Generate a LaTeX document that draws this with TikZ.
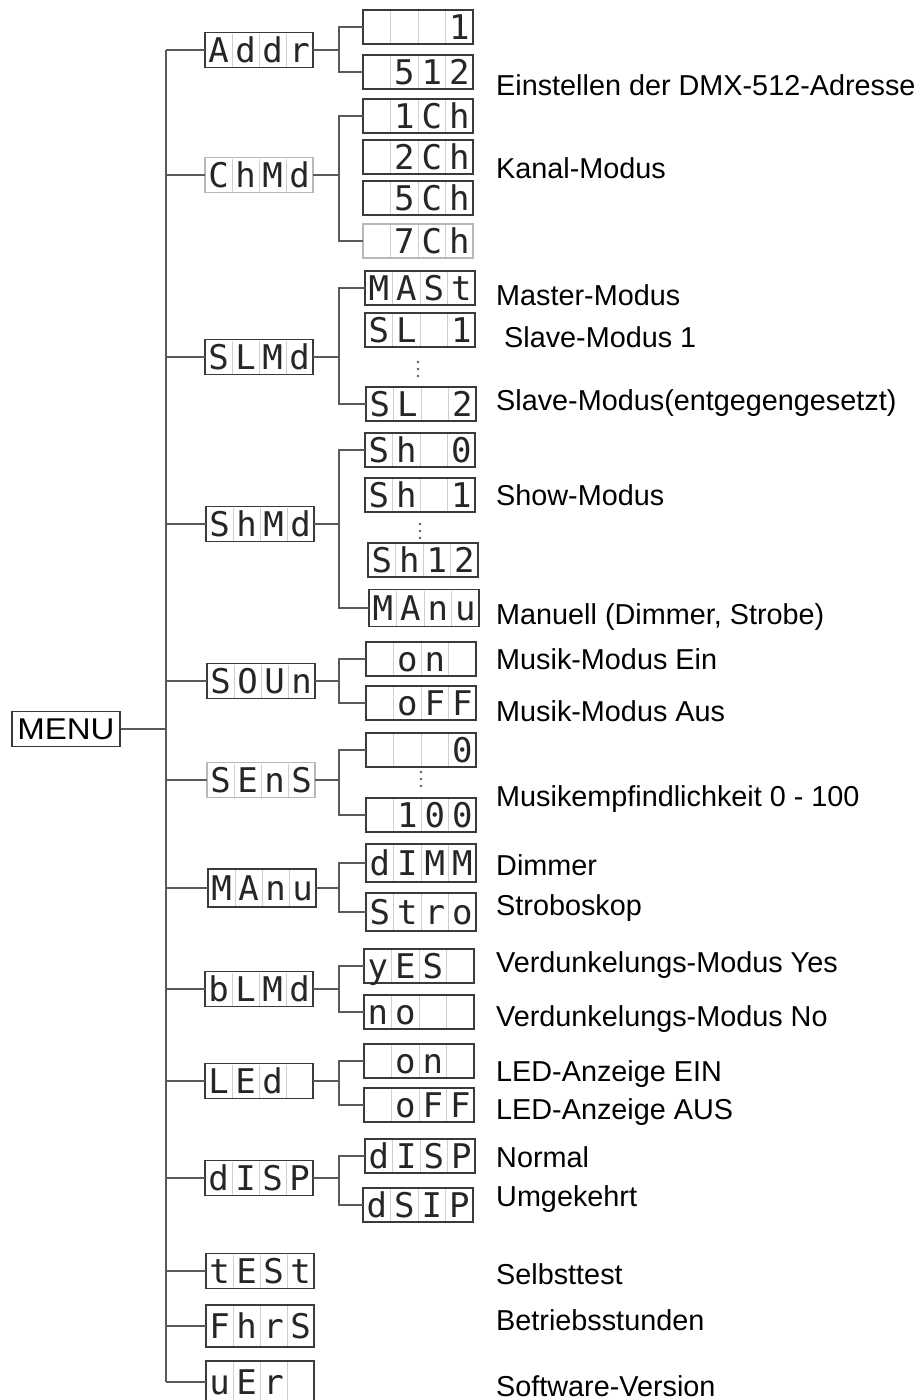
\documentclass[tikz,border=0pt]{standalone}
\usepackage{fontspec}
\setmainfont{Liberation Sans}
\newfontfamily\segfont{DejaVu Sans Mono}
\newfontfamily\menufont[FakeStretch=1.1]{Liberation Sans}
\usetikzlibrary{calc}
\definecolor{boxgray}{HTML}{3A3A3A}
\definecolor{cellgray}{HTML}{CFCFCF}
\definecolor{fadegray}{HTML}{B8B8B8}
\definecolor{wiregray}{HTML}{5A5A5A}
\definecolor{segblack}{HTML}{262626}

% display a 4 celle: nome, posizione, caratteri
\newcommand{\lcd}[4][]{%
  \node[lcdbox,#1] (#2) at (#3) {};
  \foreach \ltr [count=\i] in {#4} {
    \pgfmathsetmacro\cpos{0.25*\i-0.125}
    \node[seg] (#2-\i) at ($(#2.west)!\cpos!(#2.east)$) {\ltr};
    \ifnum\i>1
      \pgfmathsetmacro\dpos{0.25*\i-0.25}
      \draw[cell] ($(#2.north west)!\dpos!(#2.north east)$) -- ($(#2.south west)!\dpos!(#2.south east)$);
    \fi
  }
}

\begin{document}
\begin{tikzpicture}[x=1pt,y=-1pt,
  wire/.style={draw=wiregray,line width=1.4pt},
  lcdbox/.style={draw=boxgray,line width=1.6pt,fill=white,minimum width=108pt,minimum height=35pt,inner sep=0pt,outer sep=0pt},
  sub/.style={minimum width=110pt,minimum height=34pt},
  faded/.style={draw=fadegray},
  cell/.style={draw=cellgray,line width=0.9pt,shorten >=1pt,shorten <=1pt},
  seg/.style={font=\segfont\fontsize{34}{34}\selectfont,text=segblack,inner sep=0pt,text height=24pt,text depth=0pt},
  lbl/.style={anchor=base west,font=\fontsize{28.8}{34}\selectfont,inner sep=0pt}]
  \fill[white] (0,0) rectangle (923,1400);
  \useasboundingbox (0,0) rectangle (923,1400);

  % tronco principale
  \coordinate (ttop) at (166,50);
  \coordinate (tbot) at (166,1382);
  \coordinate (jx) at (339,50);
  \draw[wire] (ttop) -- (tbot);

  \node[draw=boxgray,line width=1.6pt,minimum width=108pt,minimum height=35pt,inner sep=0pt,
        font=\menufont\fontsize{30}{30}\selectfont] (menu) at (66,729) {MENU};
  \draw[wire] (menu.east) -- (menu.east -| ttop);

  % menu
  \lcd{addr}{259,50}{A,d,d,r}
  \lcd[faded]{chmd}{259,175}{C,h,M,d}
  \lcd{slmd}{259,357}{S,L,M,d}
  \lcd{shmd}{260,524}{S,h,M,d}
  \lcd{soun}{261,681}{S,O,U,n}
  \lcd[faded]{sens}{261,780}{S,E,n,S}
  \lcd[minimum height=38pt]{manu}{262,888}{M,A,n,u}
  \lcd{blmd}{259,989}{b,L,M,d}
  \lcd{led}{259,1081}{L,E,d,{}}
  \lcd{disp}{259,1178}{d,I,S,P}
  \lcd{test}{260,1271}{t,E,S,t}
  \lcd[minimum height=42pt]{fhrs}{260,1326}{F,h,r,S}
  \lcd[minimum height=42pt]{ver}{260,1382}{u,E,r,{}}

  % sottomenu
  \lcd[sub]{a1}{418,27}{{},{},{},1}
  \lcd[sub]{a2}{418,72}{{},5,1,2}
  \lcd[sub]{c1}{418,116}{{},1,C,h}
  \lcd[sub]{c2}{418,157}{{},2,C,h}
  \lcd[sub]{c3}{418,198}{{},5,C,h}
  \lcd[sub,faded]{c4}{418,241}{{},7,C,h}
  \lcd[sub]{s1}{420,288}{M,A,S,t}
  \lcd[sub]{s2}{420,330}{S,L,{},1}
  \lcd[sub]{s3}{421,404}{S,L,{},2}
  \lcd[sub]{h1}{420,450}{S,h,{},0}
  \lcd[sub]{h2}{420,495}{S,h,{},1}
  \lcd[sub]{h3}{423,560}{S,h,1,2}
  \lcd[sub,minimum height=37pt]{h4}{424,608}{M,A,n,u}
  \lcd[sub]{o1}{421,659}{{},o,n,{}}
  \lcd[sub]{o2}{421,703}{{},o,F,F}
  \lcd[sub]{e1}{421,750}{{},{},{},0}
  \lcd[sub]{e2}{421,815}{{},1,0,0}
  \lcd[sub,minimum height=38pt]{m1}{421,863}{d,I,M,M}
  \lcd[sub,minimum height=38pt]{m2}{421,912}{S,t,r,o}
  \lcd[sub]{b1}{419,966}{y,E,S,{}}
  \lcd[sub]{b2}{419,1012}{n,o,{},{}}
  \lcd[sub]{l1}{419,1061}{{},o,n,{}}
  \lcd[sub]{l2}{419,1105}{{},o,F,F}
  \lcd[sub]{d1}{420,1156}{d,I,S,P}
  \lcd[sub]{d2}{418,1205}{d,S,I,P}

  % puntini tra le opzioni
  \foreach \X/\Y in {418/362,420/524,421/772}
    \foreach \k in {0,1,2}
      \fill[wiregray] (\X,\Y+7*\k) circle (1.4);

  % collegamenti
  \foreach \m in {addr,chmd,slmd,shmd,soun,sens,manu,blmd,led,disp,test,fhrs,ver}
    \draw[wire] (\m.west) -- (\m.west -| ttop);
  \foreach \m/\a/\b in {addr/a1/a2,chmd/c1/c4,slmd/s1/s3,shmd/h1/h4,soun/o1/o2,
                        sens/e1/e2,manu/m1/m2,blmd/b1/b2,led/l1/l2,disp/d1/d2} {
    \draw[wire] (\m.east) -- (\m.east -| jx);
    \draw[wire] (\a.west) -| (jx |- \b.west) -- (\b.west);
  }

  % testi
  \node[lbl] (t1) at (496,95) {Einstellen der DMX-512-Adresse};
  \node[lbl] (t2) at (496,178) {Kanal-Modus};
  \node[lbl] (t3) at (496,305) {Master-Modus};
  \node[lbl] (t4) at (504,347) {Slave-Modus 1};
  \node[lbl] (t5) at (496,410) {Slave-Modus(entgegengesetzt)};
  \node[lbl] (t6) at (496,505) {Show-Modus};
  \node[lbl] (t7) at (496,624) {Manuell (Dimmer, Strobe)};
  \node[lbl] (t8) at (496,669) {Musik-Modus Ein};
  \node[lbl] (t9) at (496,721) {Musik-Modus Aus};
  \node[lbl] (t10) at (496,806) {Musikempfindlichkeit 0 - 100};
  \node[lbl] (t11) at (496,875) {Dimmer};
  \node[lbl] (t12) at (496,915) {Stroboskop};
  \node[lbl] (t13) at (496,972) {Verdunkelungs-Modus Yes};
  \node[lbl] (t14) at (496,1026) {Verdunkelungs-Modus No};
  \node[lbl] (t15) at (496,1081) {LED-Anzeige EIN};
  \node[lbl] (t16) at (496,1119) {LED-Anzeige AUS};
  \node[lbl] (t17) at (496,1167) {Normal};
  \node[lbl] (t18) at (496,1206) {Umgekehrt};
  \node[lbl] (t19) at (496,1284) {Selbsttest};
  \node[lbl] (t20) at (496,1330) {Betriebsstunden};
  \node[lbl] (t21) at (496,1396) {Software-Version};
\end{tikzpicture}
\end{document}
